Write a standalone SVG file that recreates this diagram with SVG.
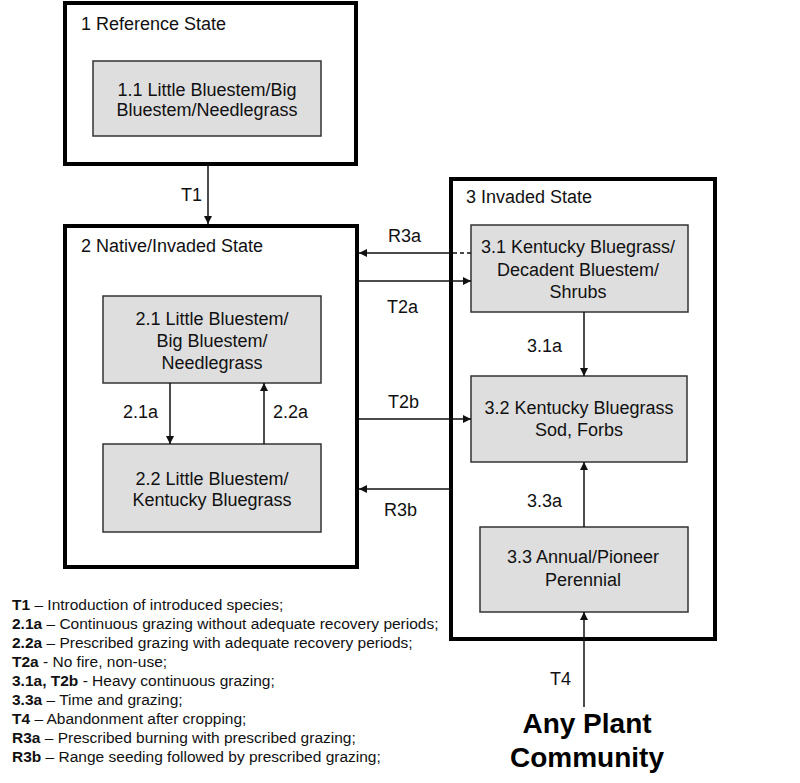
<svg xmlns="http://www.w3.org/2000/svg" width="800" height="783" viewBox="0 0 800 783">
<style>
.state{fill:#fff;stroke:#000;stroke-width:4}
.box{fill:#dedede;stroke:#333;stroke-width:1.5}
.t{font-family:"Liberation Sans",Arial,sans-serif;font-size:18px;fill:#111}
.c{text-anchor:middle}
.lg{font-family:"Liberation Sans",Arial,sans-serif;font-size:15.5px;fill:#111}
.b{font-weight:bold}
.ln{stroke:#111;stroke-width:1.5;fill:none}
.big{font-family:"Liberation Sans",Arial,sans-serif;font-size:28px;font-weight:bold;fill:#000;text-anchor:middle}
</style>
<defs>
<marker id="ah" viewBox="0 0 10 10" refX="10" refY="5" markerWidth="8" markerHeight="8" markerUnits="userSpaceOnUse" orient="auto">
<path d="M0,0 L10,5 L0,10 z" fill="#111"/>
</marker>
</defs>
<rect width="800" height="783" fill="#fff"/>
<g id="state1">
<rect class="state" x="65" y="3" width="291" height="161"/>
<text class="t" x="81" y="30">1 Reference State</text>
</g>
<g id="n1_1">
<rect class="box" x="93" y="61" width="228" height="75"/>
<text class="t c" x="207" y="96">1.1 Little Bluestem/Big</text>
<text class="t c" x="207" y="116">Bluestem/Needlegrass</text>
</g>
<g id="state2">
<rect class="state" x="65" y="226" width="292" height="341"/>
<text class="t" x="81" y="252">2 Native/Invaded State</text>
</g>
<g id="n2_1">
<rect class="box" x="103" y="296" width="218" height="87"/>
<text class="t c" x="212" y="325">2.1 Little Bluestem/</text>
<text class="t c" x="212" y="347">Big Bluestem/</text>
<text class="t c" x="212" y="369">Needlegrass</text>
</g>
<g id="n2_2">
<rect class="box" x="103" y="444" width="218" height="88"/>
<text class="t c" x="212" y="485">2.2 Little Bluestem/</text>
<text class="t c" x="212" y="506">Kentucky Bluegrass</text>
</g>
<g id="state3">
<rect class="state" x="451" y="179" width="264" height="460"/>
<text class="t" x="466" y="203">3 Invaded State</text>
</g>
<g id="n3_1">
<rect class="box" x="471" y="225" width="217" height="87"/>
<text class="t c" x="578" y="253">3.1 Kentucky Bluegrass/</text>
<text class="t c" x="578" y="276">Decadent Bluestem/</text>
<text class="t c" x="578" y="298">Shrubs</text>
</g>
<g id="n3_2">
<rect class="box" x="471" y="376" width="216" height="86"/>
<text class="t c" x="579" y="414">3.2 Kentucky Bluegrass</text>
<text class="t c" x="579" y="436">Sod, Forbs</text>
</g>
<g id="n3_3">
<rect class="box" x="480" y="527" width="208" height="85"/>
<text class="t c" x="583" y="563">3.3 Annual/Pioneer</text>
<text class="t c" x="583" y="586">Perennial</text>
</g>
<g id="any">
<text class="big" x="587" y="733">Any Plant</text>
<text class="big" x="587" y="767">Community</text>
</g>
<g id="connectors">
<line class="ln" x1="208" y1="166" x2="208" y2="224" marker-end="url(#ah)"/>
<text class="t" x="181" y="201">T1</text>
<line class="ln" x1="170" y1="383" x2="170" y2="444" marker-end="url(#ah)"/>
<text class="t" x="123" y="418">2.1a</text>
<line class="ln" x1="264" y1="444" x2="264" y2="383" marker-end="url(#ah)"/>
<text class="t" x="273" y="418">2.2a</text>
<line class="ln" x1="471" y1="253" x2="451" y2="253" stroke-dasharray="4,3"/>
<line class="ln" x1="451" y1="253" x2="359" y2="253" marker-end="url(#ah)"/>
<text class="t" x="388" y="242">R3a</text>
<line class="ln" x1="359" y1="281" x2="471" y2="281" marker-end="url(#ah)"/>
<text class="t" x="387" y="313">T2a</text>
<line class="ln" x1="359" y1="419" x2="471" y2="419" marker-end="url(#ah)"/>
<text class="t" x="388" y="408">T2b</text>
<line class="ln" x1="451" y1="489" x2="359" y2="489" marker-end="url(#ah)"/>
<text class="t" x="384" y="516">R3b</text>
<line class="ln" x1="584" y1="312" x2="584" y2="376" marker-end="url(#ah)"/>
<text class="t" x="527" y="352">3.1a</text>
<line class="ln" x1="584" y1="527" x2="584" y2="462" marker-end="url(#ah)"/>
<text class="t" x="527" y="507">3.3a</text>
<line class="ln" x1="584" y1="707" x2="584" y2="612" marker-end="url(#ah)"/>
<text class="t" x="550" y="685">T4</text>
</g>
<g id="legend">
<text class="lg" x="12" y="610"><tspan class="b">T1</tspan> – Introduction of introduced species;</text>
<text class="lg" x="12" y="629"><tspan class="b">2.1a</tspan> – Continuous grazing without adequate recovery periods;</text>
<text class="lg" x="12" y="648"><tspan class="b">2.2a</tspan> – Prescribed grazing with adequate recovery periods;</text>
<text class="lg" x="12" y="667"><tspan class="b">T2a</tspan> - No fire, non-use;</text>
<text class="lg" x="12" y="686"><tspan class="b">3.1a, T2b</tspan> - Heavy continuous grazing;</text>
<text class="lg" x="12" y="705"><tspan class="b">3.3a</tspan> – Time and grazing;</text>
<text class="lg" x="12" y="724"><tspan class="b">T4</tspan> – Abandonment after cropping;</text>
<text class="lg" x="12" y="743"><tspan class="b">R3a</tspan> – Prescribed burning with prescribed grazing;</text>
<text class="lg" x="12" y="762"><tspan class="b">R3b</tspan> – Range seeding followed by prescribed grazing;</text>
</g>
</svg>
